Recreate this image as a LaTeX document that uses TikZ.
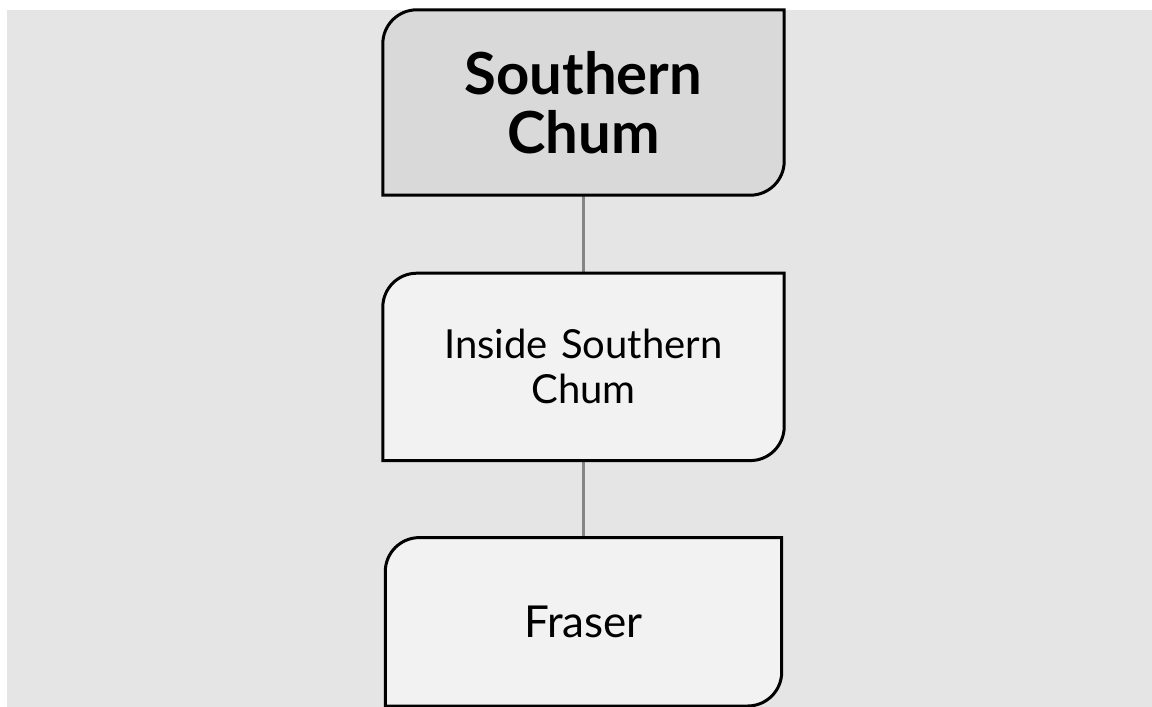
\documentclass[tikz,border=0pt]{standalone}
\usepackage{fontspec}
\setmainfont{Lato}
\usepackage{tikz}
\usetikzlibrary{positioning,calc,backgrounds}

\definecolor{pagegray}{HTML}{E5E5E5}
\definecolor{headfill}{HTML}{D9D9D9}
\definecolor{cardfill}{HTML}{F2F2F2}
\definecolor{linkgray}{HTML}{858585}

% outline with rounded top-left and bottom-right corners
\newcommand{\cardoutline}[2]{%
  \path[draw=black,line width=3pt,fill=#2]
    (#1.south west) -- ($(#1.north west)+(0,34)$)
    arc[start angle=180,end angle=90,radius=34pt]
    -- (#1.north east) -- ($(#1.south east)+(0,-34)$)
    arc[start angle=0,end angle=-90,radius=34pt] -- cycle;}

\begin{document}
\begin{tikzpicture}[x=1pt,y=-1pt,
    card/.style={align=center,inner sep=0pt,text width=380pt,
                 minimum width=401pt,minimum height=187pt},
    link/.style={draw=linkgray,line width=2.5pt}]
    \useasboundingbox (0,0) rectangle (1152,707);
    \node[card,minimum height=185pt,font=\fontsize{58}{59}\selectfont\bfseries]
        (south) at (583.5,102.5) {Southern\\Chum};
    \node[card,below=78pt of south,font=\fontsize{40}{45}\selectfont]
        (inside) {Inside Southern\\Chum};
    \node[card,minimum width=396pt,minimum height=168pt,below=77pt of inside,
          font=\fontsize{44}{48}\selectfont] (fraser) {Fraser};
    \begin{scope}[on background layer]
        \fill[pagegray] (7,10) rectangle (1152,707);
        \draw[link](south)--(inside);
        \draw[link](inside)--(fraser);
        \cardoutline{south}{headfill}
        \cardoutline{inside}{cardfill}
        \cardoutline{fraser}{cardfill}
    \end{scope}
\end{tikzpicture}
\end{document}
